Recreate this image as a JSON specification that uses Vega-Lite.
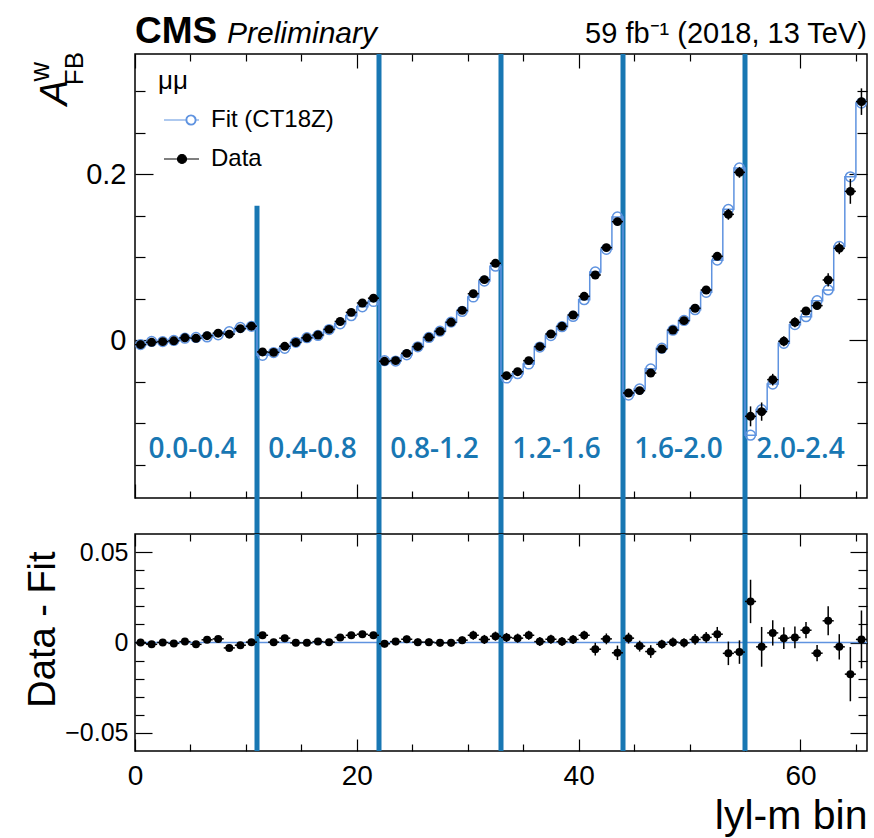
{
  "$schema": "https://vega.github.io/schema/vega-lite/v6.json",
  "autosize": {"type": "pad"},
  "padding": {"left": 23, "top": 12, "right": 6, "bottom": 4},
  "background": "white",
  "config": {
    "font": "Liberation Sans",
    "view": {"stroke": "black", "strokeWidth": 1.5},
    "axis": {"domain": false, "grid": false, "tickColor": "black", "tickWidth": 1.2, "labelFont": "Liberation Sans", "titleFont": "Liberation Sans", "labelColor": "black", "titleColor": "black", "titleFontWeight": "normal", "labelFlush": false, "labelOverlap": false, "labelBound": false}
  },
  "datasets": {
    "bins": [
      {"lo":0,"hi":1,"c":0.5,"d":-0.0052,"f":-0.0052,"e":0.0015,"r":0},
      {"lo":1,"hi":2,"c":1.5,"d":-0.0024,"f":-0.0014,"e":0.0015,"r":-0.001},
      {"lo":2,"hi":3,"c":2.5,"d":-0.0016,"f":-0.0016,"e":0.0015,"r":0},
      {"lo":3,"hi":4,"c":3.5,"d":-0.0006,"f":-0.0001,"e":0.0015,"r":-0.0005},
      {"lo":4,"hi":5,"c":4.5,"d":0.003,"f":0.0025,"e":0.0015,"r":0.0005},
      {"lo":5,"hi":6,"c":5.5,"d":0.0025,"f":0.0035,"e":0.0015,"r":-0.001},
      {"lo":6,"hi":7,"c":6.5,"d":0.0056,"f":0.0041,"e":0.0015,"r":0.0015},
      {"lo":7,"hi":8,"c":7.5,"d":0.0086,"f":0.0066,"e":0.0015,"r":0.002},
      {"lo":8,"hi":9,"c":8.5,"d":0.0074,"f":0.0104,"e":0.0015,"r":-0.003},
      {"lo":9,"hi":10,"c":9.5,"d":0.014,"f":0.0155,"e":0.0015,"r":-0.0015},
      {"lo":10,"hi":11,"c":10.5,"d":0.017,"f":0.0168,"e":0.0015,"r":0.0002},
      {"lo":11,"hi":12,"c":11.5,"d":-0.014,"f":-0.018,"e":0.0018,"r":0.004},
      {"lo":12,"hi":13,"c":12.5,"d":-0.0145,"f":-0.0147,"e":0.0018,"r":0.0002},
      {"lo":13,"hi":14,"c":13.5,"d":-0.0072,"f":-0.0096,"e":0.0018,"r":0.0024},
      {"lo":14,"hi":15,"c":14.5,"d":-0.0026,"f":-0.0024,"e":0.0018,"r":-0.0002},
      {"lo":15,"hi":16,"c":15.5,"d":0.003,"f":0.0032,"e":0.0018,"r":-0.0002},
      {"lo":16,"hi":17,"c":16.5,"d":0.0064,"f":0.0059,"e":0.0018,"r":0.0005},
      {"lo":17,"hi":18,"c":17.5,"d":0.0132,"f":0.013,"e":0.0018,"r":0.0002},
      {"lo":18,"hi":19,"c":18.5,"d":0.0227,"f":0.0199,"e":0.0018,"r":0.0028},
      {"lo":19,"hi":20,"c":19.5,"d":0.0337,"f":0.0297,"e":0.0018,"r":0.004},
      {"lo":20,"hi":21,"c":20.5,"d":0.045,"f":0.0404,"e":0.0018,"r":0.0046},
      {"lo":21,"hi":22,"c":21.5,"d":0.0508,"f":0.0468,"e":0.0018,"r":0.004},
      {"lo":22,"hi":23,"c":22.5,"d":-0.0253,"f":-0.0246,"e":0.002,"r":-0.0007},
      {"lo":23,"hi":24,"c":23.5,"d":-0.0245,"f":-0.025,"e":0.002,"r":0.0005},
      {"lo":24,"hi":25,"c":24.5,"d":-0.0157,"f":-0.0175,"e":0.002,"r":0.0018},
      {"lo":25,"hi":26,"c":25.5,"d":-0.0076,"f":-0.0078,"e":0.002,"r":0.0002},
      {"lo":26,"hi":27,"c":26.5,"d":0.0036,"f":0.0034,"e":0.002,"r":0.0002},
      {"lo":27,"hi":28,"c":27.5,"d":0.0108,"f":0.011,"e":0.002,"r":-0.0002},
      {"lo":28,"hi":29,"c":28.5,"d":0.0217,"f":0.0219,"e":0.002,"r":-0.0002},
      {"lo":29,"hi":30,"c":29.5,"d":0.0361,"f":0.0348,"e":0.002,"r":0.0013},
      {"lo":30,"hi":31,"c":30.5,"d":0.0562,"f":0.0522,"e":0.0025,"r":0.004},
      {"lo":31,"hi":32,"c":31.5,"d":0.0731,"f":0.0714,"e":0.0025,"r":0.0017},
      {"lo":32,"hi":33,"c":32.5,"d":0.0928,"f":0.0893,"e":0.0025,"r":0.0035},
      {"lo":33,"hi":34,"c":33.5,"d":-0.0426,"f":-0.0454,"e":0.0025,"r":0.0028},
      {"lo":34,"hi":35,"c":34.5,"d":-0.0378,"f":-0.0402,"e":0.0025,"r":0.0024},
      {"lo":35,"hi":36,"c":35.5,"d":-0.0245,"f":-0.0285,"e":0.0025,"r":0.004},
      {"lo":36,"hi":37,"c":36.5,"d":-0.0076,"f":-0.0081,"e":0.0025,"r":0.0005},
      {"lo":37,"hi":38,"c":37.5,"d":0.0076,"f":0.0058,"e":0.0025,"r":0.0018},
      {"lo":38,"hi":39,"c":38.5,"d":0.0169,"f":0.0164,"e":0.0025,"r":0.0005},
      {"lo":39,"hi":40,"c":39.5,"d":0.0305,"f":0.0288,"e":0.0025,"r":0.0017},
      {"lo":40,"hi":41,"c":40.5,"d":0.053,"f":0.049,"e":0.0025,"r":0.004},
      {"lo":41,"hi":42,"c":41.5,"d":0.0787,"f":0.0824,"e":0.0035,"r":-0.0037},
      {"lo":42,"hi":43,"c":42.5,"d":0.1117,"f":0.1097,"e":0.003,"r":0.002},
      {"lo":43,"hi":44,"c":43.5,"d":0.143,"f":0.1487,"e":0.004,"r":-0.0057},
      {"lo":44,"hi":45,"c":44.5,"d":-0.0635,"f":-0.0659,"e":0.003,"r":0.0024},
      {"lo":45,"hi":46,"c":45.5,"d":-0.0606,"f":-0.0586,"e":0.003,"r":-0.002},
      {"lo":46,"hi":47,"c":46.5,"d":-0.0394,"f":-0.0344,"e":0.0035,"r":-0.005},
      {"lo":47,"hi":48,"c":47.5,"d":-0.0105,"f":-0.0095,"e":0.0025,"r":-0.001},
      {"lo":48,"hi":49,"c":48.5,"d":0.0124,"f":0.0122,"e":0.0025,"r":0.0002},
      {"lo":49,"hi":50,"c":49.5,"d":0.0237,"f":0.0239,"e":0.0025,"r":-0.0002},
      {"lo":50,"hi":51,"c":50.5,"d":0.0386,"f":0.0369,"e":0.003,"r":0.0017},
      {"lo":51,"hi":52,"c":51.5,"d":0.0606,"f":0.0578,"e":0.003,"r":0.0028},
      {"lo":52,"hi":53,"c":52.5,"d":0.1012,"f":0.0966,"e":0.004,"r":0.0046},
      {"lo":53,"hi":54,"c":53.5,"d":0.1518,"f":0.1578,"e":0.0065,"r":-0.006},
      {"lo":54,"hi":55,"c":54.5,"d":0.2024,"f":0.2077,"e":0.0065,"r":-0.0053},
      {"lo":55,"hi":56,"c":55.5,"d":-0.0916,"f":-0.1143,"e":0.012,"r":0.0227},
      {"lo":56,"hi":57,"c":56.5,"d":-0.0859,"f":-0.0835,"e":0.011,"r":-0.0024},
      {"lo":57,"hi":58,"c":57.5,"d":-0.0474,"f":-0.0527,"e":0.007,"r":0.0053},
      {"lo":58,"hi":59,"c":58.5,"d":-0.0012,"f":-0.0036,"e":0.006,"r":0.0024},
      {"lo":59,"hi":60,"c":59.5,"d":0.0217,"f":0.0189,"e":0.006,"r":0.0028},
      {"lo":60,"hi":61,"c":60.5,"d":0.0353,"f":0.0285,"e":0.0045,"r":0.0068},
      {"lo":61,"hi":62,"c":61.5,"d":0.0418,"f":0.0477,"e":0.0045,"r":-0.0059},
      {"lo":62,"hi":63,"c":62.5,"d":0.0727,"f":0.0607,"e":0.008,"r":0.012},
      {"lo":63,"hi":64,"c":63.5,"d":0.1108,"f":0.1132,"e":0.007,"r":-0.0024},
      {"lo":64,"hi":65,"c":64.5,"d":0.1795,"f":0.197,"e":0.015,"r":-0.0175},
      {"lo":65,"hi":66,"c":65.5,"d":0.2876,"f":0.2859,"e":0.016,"r":0.0017}
    ],
    "dividers": [
      {"b":11,"top":0.162},
      {"b":22,"top":0.345},
      {"b":33,"top":0.345},
      {"b":44,"top":0.345},
      {"b":55,"top":0.345}
    ],
    "groups": [
      {"x":5.2,"t":"0.0-0.4"},
      {"x":16,"t":"0.4-0.8"},
      {"x":27,"t":"0.8-1.2"},
      {"x":38,"t":"1.2-1.6"},
      {"x":49,"t":"1.6-2.0"},
      {"x":60,"t":"2.0-2.4"}
    ]
  },
  "spacing": 36,
  "bounds": "flush",
  "resolve": {"scale": {"color": "independent"}, "legend": {"color": "independent"}},
  "vconcat": [
    {
      "width": 732,
      "height": 444,
      "resolve": {"axis": {"x": "independent", "y": "independent"}},
      "layer": [
        {
          "data": {"name": "dividers"},
          "mark": {"type": "rule", "color": "#1877b3", "strokeWidth": 5},
          "encoding": {
            "x": {"field": "b", "type": "quantitative", "scale": {"domain": [0, 66], "nice": false, "zero": false},
              "axis": {"orient": "bottom", "title": null, "labels": false, "values": [0,5,10,15,20,25,30,35,40,45,50,55,60,65],
                "tickSize": {"condition": {"test": "datum.value % 20 == 0", "value": -14}, "value": -7}}},
            "y": {"field": "top", "type": "quantitative", "scale": {"domain": [-0.19, 0.345], "nice": false, "zero": false},
              "axis": {"orient": "left", "values": [-0.15,-0.1,-0.05,0,0.05,0.1,0.15,0.2,0.25,0.3],
                "labelExpr": "datum.value == 0 ? '0' : (datum.value == 0.2 ? '0.2' : '')",
                "labelFontSize": 29, "labelPadding": 27,
                "tickSize": {"condition": {"test": "datum.value == 0 || datum.value == 0.2", "value": -18}, "value": -10},
                "title": null}},
            "y2": {"datum": -0.2334}
          }
        },
        {
          "data": {"name": "bins"},
          "transform": [{"fold": ["lo", "hi"], "as": ["k", "edge"]}],
          "mark": {"type": "line", "strokeWidth": 1.5, "interpolate": "linear"},
          "encoding": {
            "x": {"field": "edge", "type": "quantitative", "scale": {"domain": [0, 66], "nice": false, "zero": false},
              "axis": {"orient": "top", "title": null, "labels": false, "values": [0,5,10,15,20,25,30,35,40,45,50,55,60,65],
                "tickSize": {"condition": {"test": "datum.value % 20 == 0", "value": -14}, "value": -7}}},
            "y": {"field": "f", "type": "quantitative", "scale": {"domain": [-0.19, 0.345], "nice": false, "zero": false},
              "axis": {"orient": "right", "title": null, "labels": false, "values": [-0.15,-0.1,-0.05,0,0.05,0.1,0.15,0.2,0.25,0.3],
                "tickSize": {"condition": {"test": "datum.value == 0 || datum.value == 0.2", "value": -18}, "value": -10}}},
            "order": [{"field": "edge", "type": "quantitative"}, {"field": "lo", "type": "quantitative"}],
            "color": {"datum": "Fit (CT18Z)", "type": "nominal",
              "scale": {"domain": ["Fit (CT18Z)", "Data"], "range": ["#5f93e0", "black"]},
              "legend": {
                "orient": "none", "legendX": 23, "legendY": 14,
                "title": "μμ", "titleFontSize": 26, "titleFont": "Liberation Sans", "titleFontWeight": "normal", "titleColor": "black", "titlePadding": 14,
                "labelFontSize": 24, "labelFont": "Liberation Sans", "labelColor": "black", "labelOffset": 29,
                "symbolSize": 100, "symbolStrokeWidth": 1.2, "rowPadding": 15, "padding": 0,
                "encode": {"symbols": {"update": {
                  "shape": {"signal": "datum.value === 'Data' ? 'M-1.2,0L5.8,0M1.5,0C1.5,-0.497 1.903,-0.9 2.4,-0.9C2.897,-0.9 3.3,-0.497 3.3,0C3.3,0.497 2.897,0.9 2.4,0.9C1.903,0.9 1.5,0.497 1.5,0Z' : 'M-1.2,0L3.2,0M5.2,0L5.8,0M3.2,0C3.2,-0.552 3.648,-1 4.2,-1C4.752,-1 5.2,-0.552 5.2,0C5.2,0.552 4.752,1 4.2,1C3.648,1 3.2,0.552 3.2,0ZM3.35,0C3.35,0.469 3.731,0.85 4.2,0.85C4.669,0.85 5.05,0.469 5.05,0C5.05,-0.469 4.669,-0.85 4.2,-0.85C3.731,-0.85 3.35,-0.469 3.35,0Z'"},
                  "stroke": {"signal": "datum.value === 'Data' ? 'black' : '#5f93e0'"},
                  "strokeWidth": {"value": 1.2},
                  "opacity": {"value": 1}
                }}}
              }}
          }
        },
        {
          "data": {"name": "bins"},
          "mark": {"type": "point", "filled": false, "size": 95, "strokeWidth": 1.5, "opacity": 1},
          "encoding": {
            "x": {"field": "c", "type": "quantitative", "axis": null},
            "y": {"field": "f", "type": "quantitative", "axis": null},
            "color": {"datum": "Fit (CT18Z)", "type": "nominal"}
          }
        },
        {
          "data": {"name": "bins"},
          "mark": {"type": "rule", "color": "black", "strokeWidth": 1.5},
          "encoding": {
            "x": {"field": "lo", "type": "quantitative", "axis": null},
            "x2": {"field": "hi"},
            "y": {"field": "d", "type": "quantitative", "axis": null}
          }
        },
        {
          "data": {"name": "bins"},
          "mark": {"type": "errorbar", "color": "black", "thickness": 1.5},
          "encoding": {
            "x": {"field": "c", "type": "quantitative", "axis": null},
            "y": {"field": "d", "type": "quantitative", "axis": null},
            "yError": {"field": "e"}
          }
        },
        {
          "data": {"name": "bins"},
          "mark": {"type": "point", "filled": true, "size": 80, "opacity": 1},
          "encoding": {
            "x": {"field": "c", "type": "quantitative", "axis": null},
            "y": {"field": "d", "type": "quantitative", "axis": null},
            "color": {"datum": "Data", "type": "nominal"}
          }
        },
        {
          "data": {"name": "groups"},
          "mark": {"type": "text", "font": "Open Sans", "fontWeight": 600, "fontSize": 28, "color": "#1877b3", "align": "center", "baseline": "middle"},
          "encoding": {
            "x": {"field": "x", "type": "quantitative", "axis": null},
            "y": {"datum": -0.1325, "axis": null},
            "text": {"field": "t"}
          }
        },
        {
          "data": {"values": [{}]},
          "mark": {"type": "text", "fontSize": 38, "fontStyle": "italic", "angle": 270, "align": "right", "baseline": "alphabetic", "dx": -26, "dy": -68, "color": "black", "font": "Liberation Sans"},
          "encoding": {"x": {"datum": 0, "axis": null}, "y": {"datum": 0.345, "axis": null}, "text": {"value": "A"}}
        },
        {
          "data": {"values": [{}]},
          "mark": {"type": "text", "fontSize": 26, "angle": 270, "align": "right", "baseline": "alphabetic", "dx": 2, "dy": -52, "color": "black", "font": "Liberation Sans"},
          "encoding": {"x": {"datum": 0, "axis": null}, "y": {"datum": 0.345, "axis": null}, "text": {"value": "FB"}}
        },
        {
          "data": {"values": [{}]},
          "mark": {"type": "text", "fontSize": 27, "angle": 270, "align": "right", "baseline": "alphabetic", "dx": -8, "dy": -86, "color": "black", "font": "Liberation Sans"},
          "encoding": {"x": {"datum": 0, "axis": null}, "y": {"datum": 0.345, "axis": null}, "text": {"value": "w"}}
        },
        {
          "data": {"values": [{}]},
          "mark": {"type": "text", "fontSize": 37, "fontWeight": "bold", "align": "left", "baseline": "alphabetic", "dy": -11, "color": "black", "font": "Liberation Sans"},
          "encoding": {"x": {"datum": 0, "axis": null}, "y": {"datum": 0.345, "axis": null}, "text": {"value": "CMS"}}
        },
        {
          "data": {"values": [{}]},
          "mark": {"type": "text", "fontSize": 30, "fontStyle": "italic", "align": "left", "baseline": "alphabetic", "dx": 92, "dy": -11, "color": "black", "font": "Liberation Sans"},
          "encoding": {"x": {"datum": 0, "axis": null}, "y": {"datum": 0.345, "axis": null}, "text": {"value": "Preliminary"}}
        },
        {
          "data": {"values": [{}]},
          "mark": {"type": "text", "fontSize": 29, "align": "right", "baseline": "alphabetic", "dy": -11, "color": "black", "font": "Liberation Sans"},
          "encoding": {"x": {"datum": 66, "axis": null}, "y": {"datum": 0.345, "axis": null}, "text": {"value": "59 fb⁻¹ (2018, 13 TeV)"}}
        }
      ]
    },
    {
      "width": 732,
      "height": 217,
      "resolve": {"axis": {"x": "independent", "y": "independent"}},
      "layer": [
        {
          "data": {"values": [{}]},
          "mark": {"type": "rule", "color": "#5f93e0", "strokeWidth": 1.5},
          "encoding": {
            "y": {"datum": 0, "scale": {"domain": [-0.06, 0.06], "nice": false, "zero": false}, "axis": null}
          }
        },
        {
          "data": {"name": "dividers"},
          "mark": {"type": "rule", "color": "#1877b3", "strokeWidth": 5},
          "encoding": {
            "x": {"field": "b", "type": "quantitative", "scale": {"domain": [0, 66], "nice": false, "zero": false},
              "axis": {"orient": "top", "title": null, "labels": false, "values": [0,5,10,15,20,25,30,35,40,45,50,55,60,65],
                "tickSize": {"condition": {"test": "datum.value % 20 == 0", "value": -12}, "value": -7}}}
          }
        },
        {
          "data": {"name": "bins"},
          "mark": {"type": "rule", "color": "black", "strokeWidth": 1.5},
          "encoding": {
            "x": {"field": "lo", "type": "quantitative", "scale": {"domain": [0, 66], "nice": false, "zero": false},
              "axis": {"orient": "bottom", "values": [0,5,10,15,20,25,30,35,40,45,50,55,60,65],
                "labelExpr": "datum.value % 20 == 0 ? datum.label : ''", "labelFontSize": 28, "labelPadding": 23,
                "tickSize": {"condition": {"test": "datum.value % 20 == 0", "value": -12}, "value": -7},
                "title": "lyl-m bin", "titleFontSize": 41, "titleAlign": "right", "titleAnchor": "end", "titleBaseline": "alphabetic", "titleX": 732, "titleY": 77}},
            "x2": {"field": "hi"},
            "y": {"field": "r", "type": "quantitative", "scale": {"domain": [-0.06, 0.06], "nice": false, "zero": false},
              "axis": {"orient": "left", "values": [-0.05,-0.04,-0.03,-0.02,-0.01,0,0.01,0.02,0.03,0.04,0.05],
                "labelExpr": "datum.value == 0.05 ? '0.05' : (datum.value == -0.05 ? '−0.05' : (datum.value == 0 ? '0' : ''))",
                "labelFontSize": 25, "labelPadding": 24,
                "tickSize": {"condition": {"test": "datum.value == 0 || datum.value == 0.05 || datum.value == -0.05", "value": -17}, "value": -9},
                "title": "Data - Fit", "titleFontSize": 38, "titleAngle": 270, "titleAlign": "center", "titleBaseline": "alphabetic", "titleX": -81, "titleY": 95}}
          }
        },
        {
          "data": {"name": "bins"},
          "mark": {"type": "errorbar", "color": "black", "thickness": 1.5},
          "encoding": {
            "x": {"field": "c", "type": "quantitative", "axis": null},
            "y": {"field": "r", "type": "quantitative", "axis": null},
            "yError": {"field": "e"}
          }
        },
        {
          "data": {"name": "bins"},
          "mark": {"type": "point", "filled": true, "size": 64, "color": "black", "opacity": 1},
          "encoding": {
            "x": {"field": "c", "type": "quantitative", "axis": null},
            "y": {"field": "r", "type": "quantitative",
              "axis": {"orient": "right", "title": null, "labels": false, "values": [-0.05,-0.04,-0.03,-0.02,-0.01,0,0.01,0.02,0.03,0.04,0.05],
                "tickSize": {"condition": {"test": "datum.value == 0 || datum.value == 0.05 || datum.value == -0.05", "value": -17}, "value": -9}}}
          }
        }
      ]
    }
  ]
}
